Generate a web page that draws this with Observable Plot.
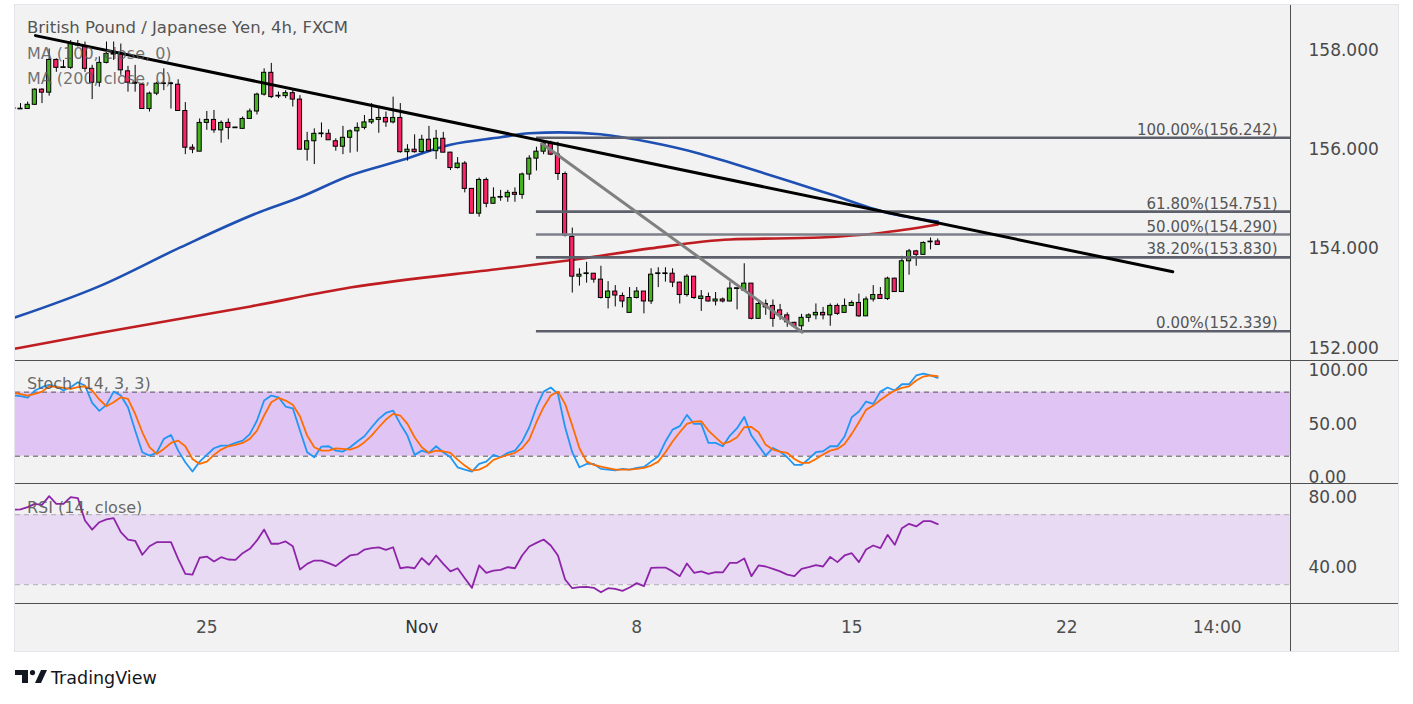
<!DOCTYPE html>
<html><head><meta charset="utf-8">
<script src="https://cdn.jsdelivr.net/npm/d3@7"></script>
<script src="https://cdn.jsdelivr.net/npm/@observablehq/plot@0.6"></script>
<style>
body{margin:0;background:#fff;font-family:"DejaVu Sans",sans-serif;}
#wrap{position:relative;width:1413px;height:704px;overflow:hidden;background:#fff;}
#frame{position:absolute;left:15px;top:5px;width:1383px;height:646px;background:#f2f2f2;box-shadow:0 0 0 1px #e4e5ea;}
.pane{position:absolute;left:15px;}
.sep{position:absolute;background:#4f4f4f;}
#overlay{position:absolute;left:0;top:0;pointer-events:none;}
</style></head>
<body><div id="wrap"><div id="frame"></div></div>
<script>
// ---------- data ----------
const priceTicks = [152, 154, 156, 158];
const stochTicks = [0, 50, 100];
const rsiTicks = [40, 80];
const timeTickIdx = [27, 57, 87, 117, 147, 168];
const timeTickLabels = ["25", "Nov", "8", "15", "22", "14:00"];

const fibLevels = [156.242, 154.751, 154.290, 153.830, 152.339];
const fibLabels = ["100.00%(156.242)", "61.80%(154.751)", "50.00%(154.290)", "38.20%(153.830)", "0.00%(152.339)"];
const fibStartIdx = 73.0;

const trendBlackIdx = [3.09, 161.8];
const trendBlackPrice = [158.30, 153.54];
const trendGreyIdx = [73.8, 110.1];
const trendGreyPrice = [156.12, 152.32];

const maFastIdx = [0.3, 12.2, 23.3, 34.5, 40, 47, 54, 61, 68, 72, 76.3, 81.9, 88.9, 95.8, 100, 108, 113.6, 121.9, 129];
const maFastVal = [152.62, 153.26, 154.03, 154.75, 155.04, 155.48, 155.78, 156.10, 156.25, 156.33, 156.35, 156.31, 156.15, 155.92, 155.74, 155.38, 155.12, 154.73, 154.55];
const maSlowIdx = [0.3, 12.2, 33.1, 47, 68, 77.7, 88.9, 100, 112.6, 121, 129];
const maSlowVal = [151.99, 152.31, 152.84, 153.22, 153.60, 153.77, 154.01, 154.19, 154.23, 154.32, 154.49];

const opens = [156.84,156.82,156.82,156.905,157.21,157.15,157.81,157.65,157.65,158.13,
158.07,157.63,157.35,157.75,157.93,157.92,157.58,157.35,157.31,156.82,
157.13,157.33,157.33,157.31,156.78,156.04,155.96,156.54,156.60,156.39,
156.54,156.44,156.42,156.62,156.77,157.11,157.55,157.08,157.08,157.14,
157.01,156.00,156.17,156.32,156.32,156.17,156.06,156.24,156.37,156.44,
156.55,156.60,156.64,156.55,156.64,155.95,156.00,155.95,156.20,155.97,
156.22,155.94,155.63,155.72,155.21,154.71,155.39,154.91,155.04,155.04,
155.13,155.09,155.50,155.82,155.96,156.12,155.90,155.51,154.24,153.44,
153.50,153.50,153.38,153.01,153.14,153.05,152.71,153.01,153.14,152.94,
153.50,153.50,153.50,153.32,153.07,153.44,152.99,153.03,152.94,152.98,
152.94,153.20,153.16,153.30,152.59,152.89,152.85,152.76,152.66,152.51,
152.44,152.61,152.66,152.71,152.66,152.85,152.71,152.85,152.91,152.64,
152.98,153.07,152.99,153.40,153.13,153.75,153.95,153.88,154.14,154.15];
const highs = [156.93,156.93,156.96,157.23,157.23,158.03,157.83,157.80,158.20,158.20,
158.17,157.70,157.87,158.17,158.17,158.13,157.68,157.70,157.33,157.16,
157.36,157.63,157.36,157.41,156.95,156.10,156.62,156.77,156.79,156.58,
156.62,156.45,156.66,156.82,157.14,157.63,157.74,157.16,157.19,157.23,
157.09,156.35,156.42,156.54,156.40,156.22,156.47,156.40,156.54,156.69,
156.93,156.86,156.76,157.06,156.93,156.10,156.30,156.29,156.47,156.39,
156.35,155.95,155.84,155.76,155.21,155.43,155.43,155.23,155.18,155.18,
155.23,155.53,155.88,156.05,156.15,156.17,156.15,155.55,154.42,153.60,
153.73,153.50,153.65,153.34,153.26,153.11,153.22,153.22,153.14,153.60,
153.62,153.62,153.60,153.33,153.48,153.44,153.16,153.11,153.12,153.01,
153.33,153.20,153.70,153.30,152.92,152.97,152.97,152.88,152.71,152.52,
152.68,152.69,152.89,152.82,152.89,152.89,152.99,152.95,153.09,153.03,
153.26,153.22,153.43,153.41,153.85,153.99,153.97,154.14,154.22,154.20];
const lows = [156.81,156.81,156.81,156.89,156.93,157.08,157.56,157.64,157.62,158.07,
157.56,157.01,157.26,157.73,157.80,157.50,157.16,157.16,156.82,156.76,
157.09,157.19,156.82,156.78,155.90,155.92,155.96,156.39,156.33,156.13,
156.20,156.43,156.41,156.61,156.70,157.08,157.03,157.03,157.03,156.86,
156.00,155.77,155.70,156.24,156.19,155.97,155.90,155.93,155.95,156.40,
156.51,156.33,156.45,156.52,155.93,155.77,155.93,155.93,155.95,155.80,
155.94,155.58,155.61,155.13,154.71,154.64,154.83,154.90,154.96,154.94,
154.94,155.00,155.38,155.57,155.90,155.88,155.38,154.24,153.11,153.25,
153.31,153.31,152.99,152.79,152.83,152.81,152.71,152.99,152.69,152.88,
153.22,153.33,153.22,152.89,153.03,152.98,152.74,152.93,152.85,152.91,
152.93,152.77,153.16,152.57,152.59,152.66,152.42,152.56,152.42,152.42,
152.35,152.52,152.57,152.57,152.44,152.66,152.71,152.84,152.62,152.64,
152.93,152.99,152.96,153.13,153.13,153.47,153.65,153.87,153.98,154.08];
const closes = [156.82,156.82,156.905,157.21,157.15,157.81,157.65,157.66,158.13,158.10,
157.63,157.35,157.75,157.93,157.92,157.60,157.35,157.33,156.82,157.13,
157.33,157.33,157.33,156.78,156.04,156.00,156.54,156.60,156.39,156.54,
156.44,156.44,156.62,156.77,157.11,157.55,157.06,157.08,157.14,157.01,
156.00,156.17,156.32,156.32,156.19,156.06,156.24,156.37,156.44,156.55,
156.60,156.64,156.55,156.64,155.95,156.00,155.95,156.20,155.97,156.22,
155.94,155.63,155.72,155.21,154.71,155.39,154.91,155.03,155.04,155.13,
155.09,155.50,155.82,155.96,156.12,155.90,155.51,154.27,153.44,153.48,
153.50,153.38,153.01,153.14,153.06,152.94,153.01,153.14,152.94,153.48,
153.50,153.50,153.32,153.07,153.44,153.01,153.04,152.94,152.98,152.94,
153.20,153.20,153.30,152.59,152.89,152.82,152.59,152.66,152.52,152.44,
152.61,152.66,152.71,152.66,152.85,152.69,152.85,152.91,152.64,152.98,
153.07,152.99,153.40,153.13,153.75,153.95,153.88,154.12,154.14,154.08];

const stochK = [77.0,76.2,74.9,81.5,84.6,86.8,85.5,81.5,84.6,89.3,
86.2,69.9,62.4,68.1,80.5,76.8,65.9,44.0,23.7,20.5,
23.1,36.2,39.9,25.2,14.3,5.6,14.9,21.2,27.4,29.9,
29.9,32.4,34.6,40.6,53.4,72.1,76.8,75.2,66.5,64.9,
44.0,23.7,19.0,29.0,29.3,25.2,24.3,28.4,33.7,38.7,
47.1,54.9,60.5,62.7,50.2,39.3,21.2,25.2,23.1,29.3,
23.7,19.0,9.6,7.4,5.6,12.7,14.9,21.2,19.0,23.1,
25.2,33.7,47.1,65.9,80.5,84.3,78.4,47.1,23.7,9.6,
12.7,12.7,8.1,7.4,6.8,8.1,7.4,9.0,9.9,14.9,
19.9,33.7,44.9,48.1,58.7,50.2,50.2,32.4,32.4,29.3,
39.3,46.2,56.8,39.3,29.9,20.5,27.7,24.3,19.0,11.8,
11.8,17.4,23.7,24.6,29.3,29.3,38.4,56.5,61.8,71.2,
69.0,80.5,84.3,81.5,87.4,87.4,95.6,97.4,95.6,93.4];
const stochD = [79.5,78.1,76.8,78.4,80.5,85.5,84.9,84.0,83.1,84.6,
85.5,81.5,73.1,66.8,70.5,75.2,73.7,59.6,42.4,28.4,
22.1,26.8,32.4,34.6,29.3,17.4,12.7,14.9,21.2,26.2,
29.3,30.6,32.4,36.2,44.0,58.1,70.5,74.6,72.1,68.1,
57.4,39.3,28.4,25.2,25.2,27.4,26.8,26.2,28.4,33.1,
39.3,47.1,54.3,59.6,58.1,50.2,37.7,28.4,23.1,25.2,
24.6,23.1,16.8,11.2,6.5,7.4,10.6,16.5,19.0,21.2,
23.1,27.4,35.5,51.8,65.9,76.8,80.5,69.0,48.7,27.4,
14.9,11.8,10.2,8.7,7.4,7.4,7.4,8.1,9.0,11.2,
14.9,23.7,33.7,42.4,50.2,52.4,52.7,44.0,37.7,31.5,
33.7,37.7,47.1,47.4,42.4,30.6,26.2,24.3,23.1,17.4,
13.7,13.7,17.4,21.5,25.2,26.8,31.5,40.9,51.8,63.4,
67.4,72.7,77.4,81.5,84.0,85.5,90.9,94.6,95.6,94.9];
const rsiVals = [72.8,73.0,74.3,76.2,75.6,80.6,76.2,76.2,80.0,79.5,
66.7,61.5,65.7,67.3,68.0,60.0,55.8,55.1,47.1,52.0,
54.3,54.3,54.3,44.8,36.2,35.8,45.4,46.1,43.3,45.7,
44.4,44.2,48.0,50.5,55.3,61.5,53.4,53.4,54.7,52.0,
38.7,41.9,43.8,43.8,42.3,40.6,43.8,46.7,47.3,50.1,
50.9,51.3,49.9,51.4,39.4,40.0,39.4,45.2,41.4,46.7,
41.9,37.6,39.4,33.7,28.2,41.0,36.8,38.1,38.5,40.0,
39.4,46.7,51.8,53.9,55.8,52.4,46.7,33.0,28.0,28.6,
28.8,28.2,25.7,28.0,27.6,26.5,28.4,30.9,29.2,39.6,
39.8,39.8,37.6,34.9,42.1,36.8,37.6,36.2,37.2,37.0,
42.5,42.5,45.0,34.9,41.0,40.4,39.1,37.6,35.8,34.9,
39.1,40.0,41.2,40.4,45.9,42.9,46.7,48.0,42.9,50.1,
52.4,50.9,58.5,52.8,62.3,64.8,63.3,66.3,66.3,64.6];

// ---------- build ----------
const W = 1383, MR = 108;
const xDomain = [0.302, 178.23];
const green = "#45b320", red = "#fa2366";
const candles = opens.map((o, i) => ({i, o, h: highs[i], l: lows[i], c: closes[i]}));
const minBody = 0.014;
const bodyLo = d => Math.abs(d.c - d.o) < minBody ? (d.o + d.c) / 2 - minBody / 2 : Math.min(d.o, d.c);
const bodyHi = d => Math.abs(d.c - d.o) < minBody ? (d.o + d.c) / 2 + minBody / 2 : Math.max(d.o, d.c);
const maFast = maFastIdx.map((x, k) => ({x, y: maFastVal[k]}));
const maSlow = maSlowIdx.map((x, k) => ({x, y: maSlowVal[k]}));
const tBlack = trendBlackIdx.map((x, k) => ({x, y: trendBlackPrice[k]}));
const tGrey = trendGreyIdx.map((x, k) => ({x, y: trendGreyPrice[k]}));
const fibs = fibLevels.map((v, k) => ({v, label: fibLabels[k], mid: k === 2}));
const stochRows = stochK.map((k, i) => ({i, k, d: stochD[i]}));
const rsiRows = rsiVals.map((r, i) => ({i, r}));
const timeRows = timeTickIdx.map((x, k) => ({x, label: timeTickLabels[k]}));

const baseStyle = {background: "transparent", color: "#4a4a4a", fontFamily: "DejaVu Sans, sans-serif", overflow: "visible"};
const common = {width: W, marginLeft: 0, marginRight: MR, marginTop: 0, marginBottom: 0, x: {type: "linear", domain: xDomain, axis: null}, style: baseStyle};
const labelIdx = xDomain[0] + (1262 / (W - MR)) * (xDomain[1] - xDomain[0]);

const price = Plot.plot({
  ...common, height: 355,
  y: {domain: [151.750, 158.907]},
  marks: [
    Plot.line(maSlow, {x: "x", y: "y", stroke: "#bf1d21", strokeWidth: 2.6, curve: "monotone-x", clip: true}),
    Plot.line(maFast, {x: "x", y: "y", stroke: "#1e4fb3", strokeWidth: 2.6, curve: "monotone-x", clip: true}),
    Plot.ruleX(candles, {x: "i", y1: "l", y2: "h", stroke: "#000", strokeWidth: 1, clip: true}),
    Plot.rect(candles, {x1: d => d.i - 0.29, x2: d => d.i + 0.29, y1: bodyLo, y2: bodyHi, fill: d => d.c >= d.o ? green : red, stroke: "#000", strokeWidth: 1, clip: true}),
    Plot.ruleY(fibs, {y: "v", x1: fibStartIdx, x2: xDomain[1], stroke: d => d.mid ? "#7d808a" : "#5d606b", strokeWidth: 2.6}),
    Plot.line(tGrey, {x: "x", y: "y", stroke: "#808080", strokeWidth: 3}),
    Plot.line(tBlack, {x: "x", y: "y", stroke: "#000", strokeWidth: 3}),
    Plot.text(fibs, {x: labelIdx, y: "v", text: "label", textAnchor: "end", lineAnchor: "bottom", dy: -3, fontSize: 15, fill: "#555"}),
    Plot.axisY({anchor: "right", ticks: priceTicks, tickFormat: d3.format(".3f"), tickSize: 0, tickPadding: 18, fontSize: 17})
  ]
});

const stoch = Plot.plot({
  ...common, height: 122,
  y: {domain: [-5.6, 108.7]},
  marks: [
    Plot.rect([{a: 20, b: 80}], {x1: xDomain[0], x2: xDomain[1], y1: "a", y2: "b", fill: "#e0c5f4"}),
    Plot.ruleY([20, 80], {stroke: "#555", strokeWidth: 1, strokeDasharray: "5,4"}),
    Plot.line(stochRows, {x: "i", y: "k", stroke: "#2196f3", strokeWidth: 1.8, clip: true}),
    Plot.line(stochRows, {x: "i", y: "d", stroke: "#ff6d00", strokeWidth: 1.8, clip: true}),
    Plot.axisY({anchor: "right", ticks: stochTicks, tickFormat: d3.format(".2f"), tickSize: 0, tickPadding: 18, fontSize: 17})
  ]
});

const rsi = Plot.plot({
  ...common, height: 119,
  y: {domain: [19.26, 87.26]},
  marks: [
    Plot.rect([{a: 30, b: 70}], {x1: xDomain[0], x2: xDomain[1], y1: "a", y2: "b", fill: "#e8daf2"}),
    Plot.ruleY([30, 70], {stroke: "#b0aab4", strokeWidth: 1, strokeDasharray: "5,4"}),
    Plot.line(rsiRows, {x: "i", y: "r", stroke: "#8e24aa", strokeWidth: 1.8, clip: true}),
    Plot.axisY({anchor: "right", ticks: rsiTicks, tickFormat: d3.format(".2f"), tickSize: 0, tickPadding: 18, fontSize: 17})
  ]
});

const timeAxis = Plot.plot({
  ...common, height: 47,
  y: {domain: [0, 1], axis: null},
  marks: [
    Plot.text(timeRows, {x: "x", y: () => 0.5, text: "label", fontSize: 17, fill: d => d.label === "Nov" ? "#333" : "#4f4f4f"})
  ]
});

const wrap = document.getElementById("wrap");
function place(el, top) { el.classList.add("pane"); el.style.position = "absolute"; el.style.left = "15px"; el.style.top = top + "px"; wrap.appendChild(el); }
place(price, 5); place(stoch, 361); place(rsi, 484); place(timeAxis, 604);

function sep(l, t, w, h) { const d = document.createElement("div"); d.className = "sep"; Object.assign(d.style, {left: l + "px", top: t + "px", width: w + "px", height: h + "px"}); wrap.appendChild(d); }
sep(15, 360, 1383, 1); sep(15, 483, 1383, 1); sep(15, 603, 1383, 1); sep(1290, 5, 1, 646);

const ns = "http://www.w3.org/2000/svg";
const ov = document.createElementNS(ns, "svg");
ov.setAttribute("id", "overlay"); ov.setAttribute("width", 1413); ov.setAttribute("height", 704);
function txt(x, y, s, size, fill, op) { const t = document.createElementNS(ns, "text"); t.setAttribute("x", x); t.setAttribute("y", y); t.setAttribute("font-size", size); t.setAttribute("fill", fill); t.setAttribute("font-family", "DejaVu Sans, sans-serif"); if (op) t.setAttribute("fill-opacity", op); t.textContent = s; ov.appendChild(t); }
txt(27, 33, "British Pound / Japanese Yen, 4h, FXCM", 16.5, "#555");
txt(27, 58.5, "MA (100, close, 0)", 16, "#5a5a5a", 0.85);
txt(27, 83.5, "MA (200, close, 0)", 16, "#5a5a5a", 0.85);
txt(27, 388.5, "Stoch (14, 3, 3)", 16, "#555", 0.9);
txt(27, 512.5, "RSI (14, close)", 16, "#555", 0.9);
txt(51, 684, "TradingView", 17.5, "#131722");
const g = document.createElementNS(ns, "g"); g.setAttribute("transform", "translate(15,670)"); g.setAttribute("fill", "#131722");
g.innerHTML = '<rect x="0" y="0" width="13" height="5"/><rect x="7" y="0" width="6" height="13"/><circle cx="17.5" cy="2.6" r="2.6"/><polygon points="20,13 26,0 32,0 26,13"/>';
ov.appendChild(g);
wrap.appendChild(ov);
</script>
</body></html>
